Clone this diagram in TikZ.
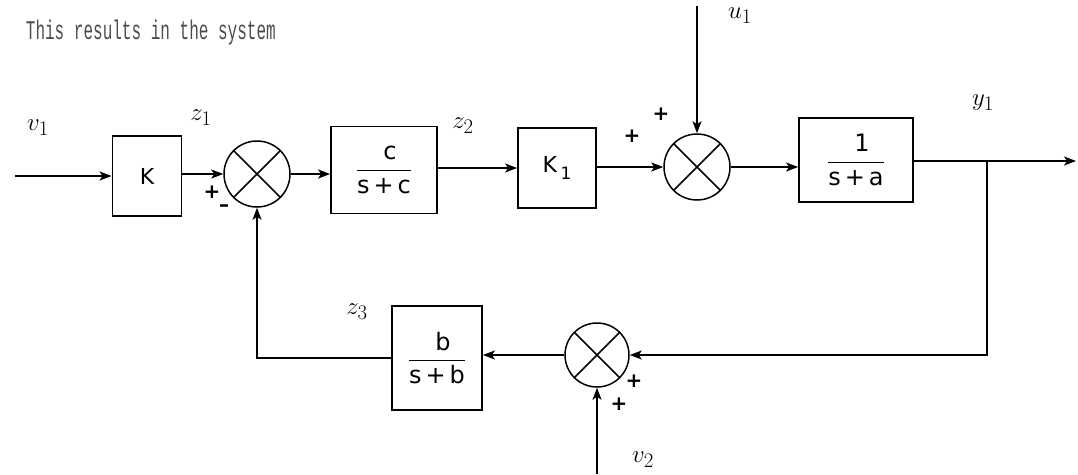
\documentclass[tikz,border=0pt]{standalone}
\usepackage{fontspec}
\setmonofont{Liberation Mono}
\setsansfont{DejaVu Sans}
\usetikzlibrary{arrows.meta}
\newcommand\tf[2]{$\displaystyle\frac{\mbox{\sffamily #1}}{\mbox{\sffamily #2}}$}
\begin{document}
\begin{tikzpicture}[x=1pt,y=-1pt,
  line width=1.8pt,
  blk/.style={draw,rectangle,inner sep=0pt,font=\sffamily\fontsize{22}{24}\selectfont},
  fblk/.style={blk,font=\sffamily\fontsize{24}{26}\selectfont},
  sumj/.style={draw,circle,minimum size=66pt,inner sep=0pt,line width=1.5pt},
  lbl/.style={font=\fontsize{32}{34}\selectfont},
  sgn/.style={font=\sffamily\bfseries\fontsize{20}{20}\selectfont,inner sep=0pt},
  sig/.style={-{Stealth[length=12pt,width=9pt,inset=3pt]}}]
\useasboundingbox (0,0) rectangle (1078,474);
\node[anchor=base west,inner sep=0pt,font=\ttfamily\fontsize{15.4}{17}\selectfont,text=black!70] (title) at (25,39) {\scalebox{1.04}[1.75]{This results in the system}};
% blocks
\node[blk,minimum width=69pt,minimum height=80pt] (K) at (147,176) {K};
\node[sumj] (s1) at (257,174) {};
\draw[line width=1.5pt] (s1.45) -- (s1.225) (s1.135) -- (s1.315);
\node[fblk,minimum width=106pt,minimum height=87pt] (C) at (384,170) {\tf{\,\,\,c}{s\,+\,c}};
\node[blk,minimum width=78pt,minimum height=80pt] (K1) at (557,168) {K\,\raisebox{-7pt}{\fontsize{17}{17}\selectfont 1}};
\node[sumj] (s2) at (697,167) {};
\draw[line width=1.5pt] (s2.45) -- (s2.225) (s2.135) -- (s2.315);
\node[fblk,minimum width=114pt,minimum height=84pt] (A) at (856,160) {\tf{\,\,\,1}{s\,+\,a}};
\node[sumj,minimum size=64pt] (s3) at (597,355) {};
\draw[line width=1.5pt] (s3.45) -- (s3.225) (s3.135) -- (s3.315);
\node[fblk,minimum width=90pt,minimum height=104pt] (B) at (437,358) {\tf{\,\,\,b}{s\,+\,b}};
% coordinates
\coordinate (in) at (15,176);
\coordinate (u1) at (697,6);
\coordinate (out) at (1076,161);
\coordinate (br) at (987,161);
\coordinate (brd) at (987,355);
\coordinate (v2) at (597,474);
\coordinate (fb) at (257,358);
% connectors
\draw[sig] (in) -- (K.west);
\draw[sig] (K.east |- s1.west) -- (s1.west);
\draw[sig] (s1.east) -- (s1.east -| C.west);
\draw[sig] (C.east |- K1.west) -- (K1.west);
\draw[sig] (K1.east |- s2.west) -- (s2.west);
\draw[sig] (u1) -- (s2.north);
\draw[sig] (s2.east) -- (s2.east -| A.west);
\draw[sig] (A.east |- out) -- (out);
\draw[sig] (br) -- (brd) -- (s3.east);
\draw[sig] (v2) -- (s3.south);
\draw[sig] (s3.west) -- (s3.west -| B.east);
\draw[sig] (B.west |- fb) -- (fb) -- (s1.south);
% labels
\node[lbl] (lv1) at (38,128) {$v_1$};
\node[lbl] (lz1) at (201,118) {$z_1$};
\node[lbl] (lz2) at (463,126) {$z_2$};
\node[lbl] (lu1) at (740,16) {$u_1$};
\node[lbl] (ly1) at (983,103) {$y_1$};
\node[lbl] (lz3) at (357,312) {$z_3$};
\node[lbl] (lv2) at (643,460) {$v_2$};
\node[sgn] (p1) at (212,192) {+};
\node[sgn] (m1) at (224,208) {--};
\node[sgn] (p2) at (632,136) {+};
\node[sgn] (p3) at (661,114) {+};
\node[sgn] (p4) at (634,381) {+};
\node[sgn] (p5) at (619,404) {+};
\end{tikzpicture}
\end{document}
